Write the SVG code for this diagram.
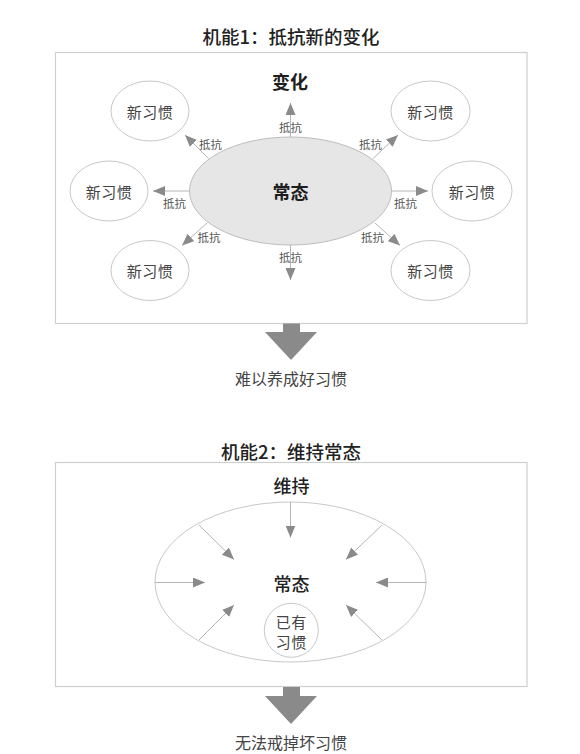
<svg xmlns="http://www.w3.org/2000/svg" width="580" height="754" viewBox="0 0 580 754">
<defs>
<marker id="ah" markerUnits="userSpaceOnUse" markerWidth="12" markerHeight="10" refX="12" refY="5" orient="auto">
<path d="M0,0 L12,5 L0,10 z" fill="#8a8a8a"/>
</marker>
<style>
text{font-family:"Noto Sans CJK SC","Noto Sans",sans-serif;text-anchor:middle;dominant-baseline:central}
.title{font-size:18.5px;font-weight:500;fill:#222}
.head{font-size:18px;font-weight:bold;fill:#1e1e1e}
.head2{font-size:18px;font-weight:500;fill:#222}
.node{font-size:15px;fill:#444;letter-spacing:0.5px}
.lbl{font-size:11.5px;fill:#555}
.res{font-size:16px;fill:#444}
.frame{fill:#fff;stroke:#cfcfcf;stroke-width:1.2}
.oval{fill:#fff;stroke:#c8c8c8;stroke-width:1}
.core{fill:#e6e6e6;stroke:#bdbdbd;stroke-width:1}
.con{stroke:#b5b5b5;stroke-width:1;fill:none;marker-end:url(#ah)}
.big{fill:#8a8a8a}
</style>
</defs>
<rect width="580" height="754" fill="#fff"/>

<!-- Section 1 -->
<g id="title1"><text class="title" x="291" y="36">机能1：抵抗新的变化</text></g>
<g id="frame1"><rect class="frame" x="55.5" y="52.5" width="471.5" height="271"/></g>
<g id="change"><text class="head" x="290" y="81">变化</text></g>

<g id="connectors1">
<line class="con" x1="290.5" y1="137" x2="290.5" y2="103"/>
<line class="con" x1="290.5" y1="245" x2="290.5" y2="280"/>
<line class="con" x1="189.5" y1="191" x2="153" y2="191"/>
<line class="con" x1="391.5" y1="191" x2="428" y2="191"/>
<line class="con" x1="208.5" y1="158.5" x2="185" y2="135"/>
<line class="con" x1="373" y1="158.5" x2="398" y2="135"/>
<line class="con" x1="207" y1="223" x2="182" y2="245.5"/>
<line class="con" x1="375" y1="223" x2="400" y2="245.5"/>
</g>

<g id="core1"><ellipse class="core" cx="290.5" cy="191" rx="101" ry="54"/><text class="head" x="290.5" y="191">常态</text></g>

<g id="labels1">
<text class="lbl" x="290.5" y="126.5">抵抗</text>
<text class="lbl" x="290.5" y="256.5">抵抗</text>
<text class="lbl" x="174.5" y="203">抵抗</text>
<text class="lbl" x="405.5" y="203">抵抗</text>
<text class="lbl" x="210.5" y="143.5">抵抗</text>
<text class="lbl" x="370.5" y="143.5">抵抗</text>
<text class="lbl" x="209" y="237">抵抗</text>
<text class="lbl" x="372.5" y="237">抵抗</text>
</g>

<g id="habit-tl"><ellipse class="oval" cx="150" cy="111" rx="39" ry="30"/><text class="node" x="150" y="111">新习惯</text></g>
<g id="habit-tr"><ellipse class="oval" cx="430.5" cy="111" rx="39.5" ry="30"/><text class="node" x="430.5" y="111">新习惯</text></g>
<g id="habit-ml"><ellipse class="oval" cx="109" cy="191" rx="39" ry="30"/><text class="node" x="109" y="191">新习惯</text></g>
<g id="habit-mr"><ellipse class="oval" cx="472" cy="191" rx="40" ry="30"/><text class="node" x="472" y="191">新习惯</text></g>
<g id="habit-bl"><ellipse class="oval" cx="150" cy="270.5" rx="39" ry="30"/><text class="node" x="150" y="270.5">新习惯</text></g>
<g id="habit-br"><ellipse class="oval" cx="430.5" cy="270.5" rx="39.5" ry="30"/><text class="node" x="430.5" y="270.5">新习惯</text></g>

<g id="result1">
<path class="big" d="M283,323.5 H300 V332 H317 L291,360 L265,332 H283 Z"/>
<text class="res" x="291" y="378">难以养成好习惯</text>
</g>

<!-- Section 2 -->
<g id="title2"><text class="title" x="291" y="451">机能2：维持常态</text></g>
<g id="frame2"><rect class="frame" x="55.5" y="462.5" width="471.5" height="224"/></g>
<g id="maintain"><text class="head2" x="291.5" y="485">维持</text></g>

<g id="state2"><ellipse class="oval" cx="290.5" cy="582" rx="135.5" ry="80"/><text class="head2" x="291.5" y="583">常态</text></g>

<g id="connectors2">
<line class="con" x1="290.5" y1="502" x2="290.5" y2="537.5"/>
<line class="con" x1="199" y1="525" x2="234" y2="559.5"/>
<line class="con" x1="382" y1="525" x2="346" y2="559.5"/>
<line class="con" x1="155" y1="582.5" x2="205" y2="582.5"/>
<line class="con" x1="426" y1="582.5" x2="376" y2="582.5"/>
<line class="con" x1="199" y1="640" x2="234" y2="605"/>
<line class="con" x1="382" y1="640" x2="346" y2="605"/>
</g>

<g id="existing"><circle class="oval" cx="291.3" cy="630.3" r="27"/>
<text class="node" x="291.3" y="621">已有</text>
<text class="node" x="291.3" y="641.5">习惯</text></g>

<g id="result2">
<path class="big" d="M283,687 H300 V696 H317 L291,724 L265,696 H283 Z"/>
<text class="res" x="291" y="742">无法戒掉坏习惯</text>
</g>
</svg>
